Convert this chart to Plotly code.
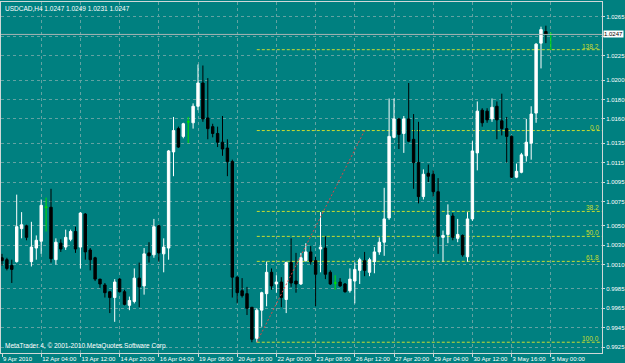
import plotly.graph_objects as go

# ---------------- data (USDCAD H4) ----------------
opens = [1.0017, 1.0015, 1.0009, 1.0013, 1.0047, 1.0050, 1.0013, 1.0027, 1.0034, 1.0069,
         1.0069, 1.0015, 1.0032, 1.0028, 1.0036, 1.0044, 1.0028, 1.0062, 1.0025, 1.0017,
         0.9995, 0.9989, 0.9982, 0.9976, 0.9995, 0.9982, 0.9968, 0.9972, 0.9996, 0.9988,
         1.0022, 1.0020, 1.0050, 1.0021, 1.0027, 1.0126, 1.0150, 1.0142, 1.0157, 1.0156,
         1.0173, 1.0197, 1.0161, 1.0152, 1.0145, 1.0136, 1.0130, 1.0116, 0.9997, 0.9983,
         0.9980, 0.9966, 0.9934, 0.9963, 0.9980, 1.0002, 0.9990, 0.9992, 0.9974, 1.0012,
         0.9993, 0.9990, 1.0014, 1.0023, 1.0014, 1.0026, 1.0027, 1.0002, 0.9991, 0.9992,
         0.9990, 0.9983, 0.9993, 1.0004, 1.0014, 1.0002, 1.0013, 1.0023, 1.0033, 1.0058,
         1.0141, 1.0160, 1.0145, 1.0160, 1.0139, 1.0115, 1.0080, 1.0104, 1.0103, 1.0085,
         1.0038, 1.0041, 1.0060, 1.0037, 1.0040, 1.0018, 1.0057, 1.0125, 1.0169, 1.0168,
         1.0160, 1.0173, 1.0158, 1.0150, 1.0142, 1.0100, 1.0105, 1.0122, 1.0135, 1.0166,
         1.0238, 1.0250, 1.0247]
highs = [1.0021, 1.0017, 1.0015, 1.0082, 1.0064, 1.0051, 1.0054, 1.0040, 1.0077, 1.0079,
         1.0088, 1.0037, 1.0036, 1.0046, 1.0046, 1.0049, 1.0064, 1.0063, 1.0027, 1.0018,
         0.9995, 0.9991, 0.9982, 0.9995, 0.9996, 0.9984, 0.9977, 1.0006, 1.0012, 1.0027,
         1.0033, 1.0057, 1.0051, 1.0037, 1.0128, 1.0162, 1.0152, 1.0156, 1.0162, 1.0176,
         1.0216, 1.0215, 1.0202, 1.0155, 1.0152, 1.0163, 1.0139, 1.0118, 0.9998, 0.9996,
         0.9987, 0.9966, 0.9965, 0.9982, 1.0013, 1.0006, 0.9999, 0.9997, 1.0013, 1.0037,
         1.0022, 1.0022, 1.0032, 1.0029, 1.0018, 1.0064, 1.0039, 1.0004, 0.9999, 0.9996,
         0.9991, 1.0006, 1.0012, 1.0017, 1.0023, 1.0017, 1.0028, 1.0038, 1.0089, 1.0181,
         1.0181, 1.0161, 1.0163, 1.0197, 1.0165, 1.0157, 1.0108, 1.0113, 1.0107, 1.0099,
         1.0045, 1.0072, 1.0063, 1.0057, 1.0041, 1.0064, 1.0137, 1.0178, 1.0171, 1.0171,
         1.0181, 1.0178, 1.0186, 1.0162, 1.0143, 1.0114, 1.0125, 1.0160, 1.0173, 1.0238,
         1.0255, 1.0256, 1.0249]
lows = [1.0009, 1.0004, 0.9991, 1.0012, 1.0037, 1.0035, 1.0008, 1.0015, 1.0021, 1.0044,
        1.0012, 1.0010, 1.0023, 1.0025, 1.0034, 1.0022, 1.0006, 1.0015, 1.0004, 0.9993,
        0.9986, 0.9976, 0.9960, 0.9951, 0.9981, 0.9968, 0.9963, 0.9970, 0.9966, 0.9979,
        1.0012, 1.0017, 1.0013, 1.0002, 1.0015, 1.0101, 1.0130, 1.0140, 1.0135, 1.0150,
        1.0169, 1.0157, 1.0139, 1.0141, 1.0131, 1.0122, 1.0101, 0.9976, 0.9970, 0.9976,
        0.9958, 0.9930, 0.9930, 0.9946, 0.9967, 0.9984, 0.9981, 0.9966, 0.9960, 0.9987,
        0.9981, 0.9989, 1.0013, 1.0010, 0.9967, 1.0002, 0.9995, 0.9989, 0.9984, 0.9987,
        0.9981, 0.9981, 0.9970, 0.9990, 0.9998, 0.9998, 1.0001, 1.0020, 1.0019, 1.0056,
        1.0140, 1.0129, 1.0125, 1.0136, 1.0088, 1.0073, 1.0077, 1.0095, 1.0080, 1.0021,
        1.0013, 1.0032, 1.0035, 1.0033, 1.0018, 1.0013, 1.0055, 1.0107, 1.0152, 1.0156,
        1.0157, 1.0139, 1.0143, 1.0115, 1.0099, 1.0099, 1.0104, 1.0116, 1.0118, 1.0156,
        1.0212, 1.0238, 1.0231]
closes = [1.0014, 1.0006, 1.0005, 1.0049, 1.0051, 1.0038, 1.0028, 1.0035, 1.0071, 1.0069,
          1.0016, 1.0033, 1.0026, 1.0038, 1.0044, 1.0026, 1.0063, 1.0023, 1.0015, 0.9995,
          0.9990, 0.9981, 0.9976, 0.9992, 0.9982, 0.9969, 0.9973, 0.9996, 0.9987, 1.0021,
          1.0019, 1.0049, 1.0022, 1.0028, 1.0127, 1.0148, 1.0131, 1.0155, 1.0157, 1.0173,
          1.0197, 1.0160, 1.0150, 1.0145, 1.0136, 1.0129, 1.0116, 0.9997, 0.9981, 0.9978,
          0.9965, 0.9933, 0.9963, 0.9981, 1.0002, 0.9988, 0.9992, 0.9976, 1.0012, 0.9991,
          0.9990, 1.0017, 1.0023, 1.0013, 1.0000, 1.0028, 1.0000, 0.9990, 0.9991, 0.9988,
          0.9982, 0.9995, 1.0005, 1.0015, 1.0004, 1.0015, 1.0023, 1.0033, 1.0057, 1.0142,
          1.0160, 1.0144, 1.0160, 1.0137, 1.0115, 1.0080, 1.0103, 1.0101, 1.0085, 1.0039,
          1.0040, 1.0061, 1.0038, 1.0041, 1.0020, 1.0057, 1.0127, 1.0168, 1.0156, 1.0159,
          1.0172, 1.0159, 1.0150, 1.0142, 1.0100, 1.0106, 1.0123, 1.0136, 1.0165, 1.0237,
          1.0252, 1.0247, 1.0247]

tick_bars = [0, 8, 16, 24, 32, 40, 48, 56, 64, 72, 80, 88, 96, 104, 112]
tick_texts = ["9 Apr 2010", "12 Apr 04:00", "13 Apr 12:00", "14 Apr 20:00", "16 Apr 04:00",
              "19 Apr 08:00", "20 Apr 16:00", "22 Apr 00:00", "23 Apr 08:00", "26 Apr 12:00",
              "27 Apr 20:00", "29 Apr 04:00", "30 Apr 12:00", "3 May 16:00", "5 May 00:00"]

price_ticks = [1.0265, 1.0245, 1.0225, 1.0200, 1.0180, 1.0160, 1.0135, 1.0115, 1.0095,
               1.0075, 1.0050, 1.0030, 1.0010, 0.9985, 0.9965, 0.9945, 0.9925]
price_texts = ["1.0265", "", "1.0225", "1.0200", "1.0180", "1.0160", "1.0135", "1.0115",
               "1.0095", "1.0075", "1.0050", "1.0030", "1.0010", "0.9985", "0.9965",
               "0.9945", "0.9925"]

fib_bar_start = 52
fib_bar_end = 74
fib_low = 0.9930
fib_high = 1.0148
fib_ratios = [-0.382, 0.0, 0.382, 0.5, 0.618, 1.0]
fib_names = ["138.2", "0.0", "38.2", "50.0", "61.8", "100.0"]

title_text = "USDCAD,H4 1.0247 1.0249 1.0231 1.0247"
footer_text = "MetaTrader 4, © 2001-2010 MetaQuotes Software Corp."

# ---------------- styling ----------------
BG = "#008080"
GRID = "#63a2a2"
FRAME = "#d0d8d8"
TXT = "#ffffff"
FIB = "#c8dc30"
DOJI = "#00e000"
FONT = "Liberation Sans"
FS = 6

x_range = [-0.204, 122.45]
y_range = [0.99189, 1.02804]

idx = list(range(len(opens)))
nd = [i for i in idx if opens[i] != closes[i]]
dj = [i for i in idx if opens[i] == closes[i]]

fig = go.Figure()

# fib levels (drawn first, under candles)
for r, name in zip(fib_ratios, fib_names):
    lvl = fib_high - r * (fib_high - fib_low)
    fig.add_shape(type="line", xref="x", yref="y", x0=fib_bar_start, x1=x_range[1],
                  y0=lvl, y1=lvl, line=dict(color=FIB, width=1, dash="3px,2px"), layer="below")
    fig.add_annotation(x=x_range[1], y=lvl, xref="x", yref="y", text=name, showarrow=False,
                       xanchor="right", yanchor="bottom", xshift=-1, yshift=-2,
                       font=dict(family=FONT, size=FS + 0.5, color=FIB))

# fib trend line
fig.add_trace(go.Scatter(x=[fib_bar_start, fib_bar_end], y=[fib_low, fib_high], mode="lines",
                         line=dict(color="#d84848", width=1, dash="2px,2px"),
                         hoverinfo="skip", showlegend=False))

# bid line
last_close = closes[-1]
fig.add_shape(type="line", xref="paper", yref="y", x0=0, x1=1, y0=last_close, y1=last_close,
              line=dict(color="#a8b4b4", width=1))

fig.add_trace(go.Candlestick(
    x=[i for i in nd], open=[opens[i] for i in nd], high=[highs[i] for i in nd],
    low=[lows[i] for i in nd], close=[closes[i] for i in nd],
    increasing=dict(line=dict(color="#ffffff", width=1), fillcolor="#ffffff"),
    decreasing=dict(line=dict(color="#000000", width=1), fillcolor="#000000"),
    whiskerwidth=0, showlegend=False, hoverinfo="skip"))

fig.add_trace(go.Candlestick(
    x=[i for i in dj], open=[opens[i] for i in dj], high=[highs[i] for i in dj],
    low=[lows[i] for i in dj], close=[closes[i] for i in dj],
    increasing=dict(line=dict(color=DOJI, width=1), fillcolor=DOJI),
    decreasing=dict(line=dict(color=DOJI, width=1), fillcolor=DOJI),
    whiskerwidth=0, showlegend=False, hoverinfo="skip"))

# texts
fig.add_annotation(x=0, y=1, xref="paper", yref="paper", text=title_text, showarrow=False,
                   xanchor="left", yanchor="top", xshift=2, yshift=-1,
                   font=dict(family=FONT, size=FS + 0.5, color=TXT))
fig.add_annotation(x=0, y=0, xref="paper", yref="paper", text=footer_text, showarrow=False,
                   xanchor="left", yanchor="bottom", xshift=2, yshift=1,
                   font=dict(family=FONT, size=FS + 0.5, color=TXT))
fig.add_annotation(x=1, y=last_close, xref="paper", yref="y", text=f"{last_close:.4f}",
                   showarrow=False, xanchor="left", yanchor="middle", xshift=1,
                   bgcolor="#ffffff", borderpad=0,
                   font=dict(family=FONT, size=FS, color="#000000"))

fig.update_layout(
    width=625, height=363,
    margin=dict(l=1, r=23, t=2, b=10),
    paper_bgcolor=BG, plot_bgcolor=BG,
    showlegend=False,
    font=dict(family=FONT, size=FS, color=TXT),
    xaxis=dict(range=x_range, rangeslider=dict(visible=False), tickmode="array",
               tickvals=tick_bars, ticktext=tick_texts, ticks="outside", ticklen=3,
               tickcolor=FRAME, showgrid=True, gridcolor=GRID, griddash="3px,3px",
               gridwidth=1, zeroline=False, showline=True, linecolor=FRAME, mirror=True,
               ticklabelposition="outside right", tickangle=0, automargin=False,
               ticklabelstandoff=0,
               tickfont=dict(size=FS, color=TXT), fixedrange=True),
    yaxis=dict(range=y_range, side="right", tickmode="array", tickvals=price_ticks,
               ticktext=price_texts, ticks="outside", ticklen=2, tickcolor=FRAME,
               showgrid=True, gridcolor=GRID, griddash="3px,3px", gridwidth=1,
               zeroline=False, showline=True, linecolor=FRAME, mirror=True,
               automargin=False, ticklabelstandoff=0,
               tickfont=dict(size=FS, color=TXT), fixedrange=True),
)

fig.write_html("out.html")
